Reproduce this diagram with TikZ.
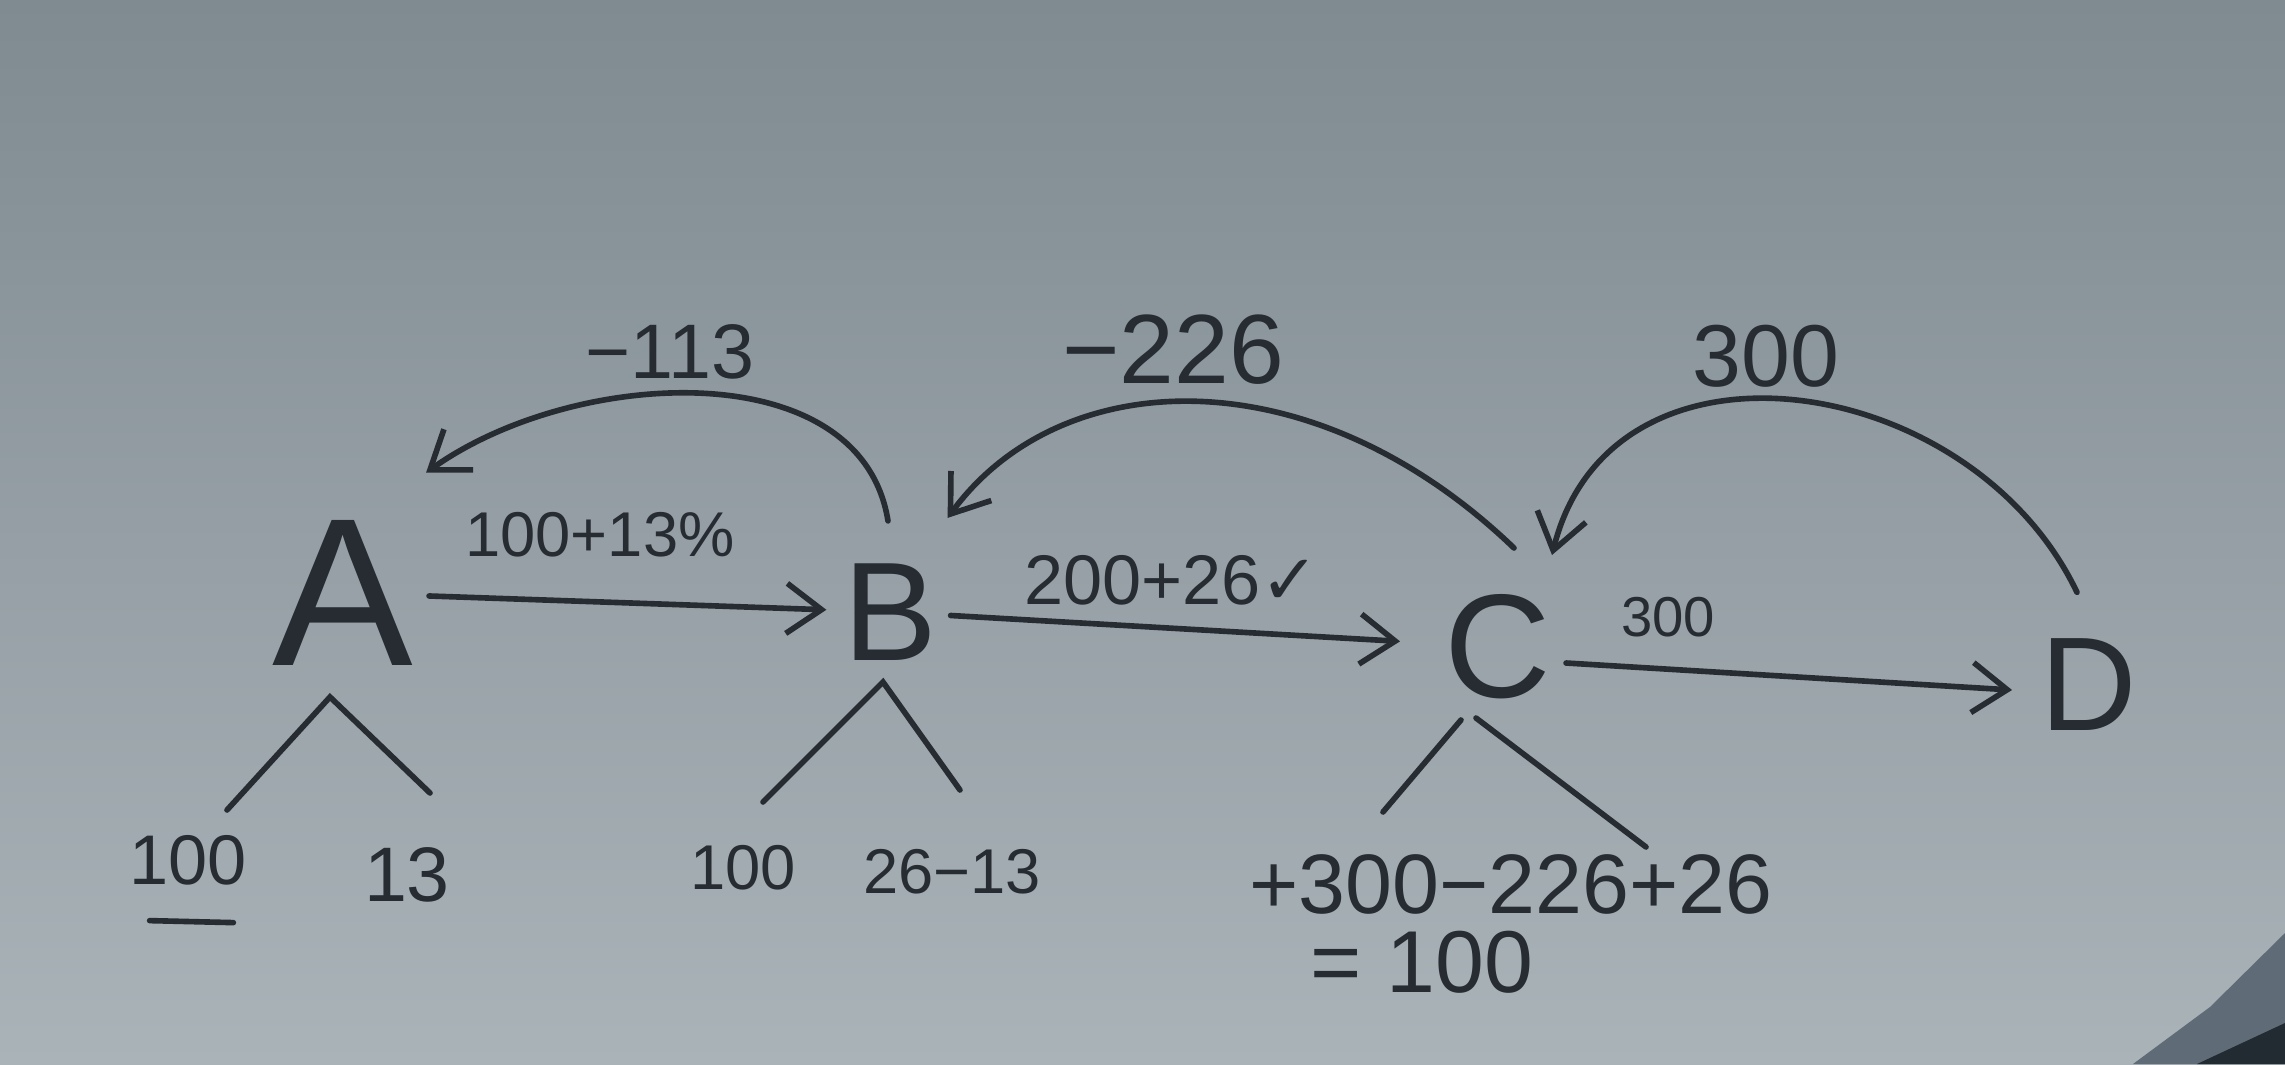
\documentclass[tikz,border=0pt]{standalone}
\usepackage{fontspec}
\setmainfont{Liberation Sans}
\newfontfamily\dejavu{DejaVu Sans}
\usepackage{tikz}
\usetikzlibrary{arrows.meta,calc}
\definecolor{ink}{HTML}{262C31}
\definecolor{papertop}{HTML}{7F8A91}
\definecolor{papermid}{HTML}{98A2A8}
\definecolor{paperbottom}{HTML}{AAB3B8}
\definecolor{shadowmid}{HTML}{5F6C77}
\definecolor{shadowdark}{HTML}{222B32}
\tikzset{
  letter/.style={text=ink,inner sep=2pt,font=\fontsize{40}{40}\selectfont},
  leaf/.style={text=ink,inner sep=2pt,font=\fontsize{20}{20}\selectfont},
  edgelabel/.style={text=ink,inner sep=1pt,font=\fontsize{18}{18}\selectfont},
  flowarrow/.style={-{Straight Barb[length=3.5mm,width=5mm]},draw=ink,line width=1.6pt,line cap=round},
  branch/.style={draw=ink,line width=1.6pt,line cap=round}
}

\begin{document}
\begin{tikzpicture}
  \useasboundingbox (0,0) rectangle (22.85,10.64);
  \shade[top color=papertop,middle color=papermid,bottom color=paperbottom] (0,0) rectangle (22.85,10.64);
  \fill[shadowmid] (22.85,1.31) -- (22.10,0.57) -- (21.33,0) -- (22.85,0) -- cycle;
  \fill[shadowdark] (22.85,0.41) -- (21.97,0) -- (22.85,0) -- cycle;
  \node[letter,font=\fontsize{60}{60}\selectfont] (a) at (3.43,4.71) {A};
  \node[letter] (b) at (8.90,4.52) {B};
  \node[letter,font=\fontsize{42}{42}\selectfont] (c) at (14.98,4.17) {C};
  \node[letter,font=\fontsize{38}{38}\selectfont] (d) at (20.89,3.79) {D};
  \draw[flowarrow,shorten <=0.08cm,shorten >=0.09cm] (a) -- (b);
  \draw[flowarrow,shorten <=0.06cm,shorten >=0.37cm] (b) -- (c);
  \draw[flowarrow] ([xshift=0.07cm,yshift=-0.16cm]c.east) -- ([xshift=-0.21cm,yshift=-0.05cm]d.west);
  \draw[flowarrow] ([shift={(-0.02,0.35)}]b.north) .. controls (8.61,7.12) and (5.74,6.97) .. ([shift={(0.05,0.40)}]a.north east);
  \draw[flowarrow] ([shift={(0.16,0.39)}]c.north) .. controls (13.12,7.10) and (10.61,7.01) .. ([shift={(0.03,0.38)}]b.north east);
  \draw[flowarrow] ([shift={(-0.12,0.39)}]d.north) .. controls (19.71,6.94) and (16.11,7.47) .. ([shift={(0.54,0.32)}]c.north);
  \node[edgelabel] (ab) at (6.00,5.29) {100+13\%};
  \node[edgelabel,font=\fontsize{20}{20}\selectfont] (bc) at (11.72,4.84) {200+26{\dejavu ✓}};
  \node[edgelabel,font=\fontsize{16}{16}\selectfont] (cd) at (16.68,4.47) {300};
  \node[edgelabel,font=\fontsize{22}{22}\selectfont] (ba) at (6.70,7.12) {−113};
  \node[edgelabel,font=\fontsize{28}{28}\selectfont] (cb) at (11.73,7.14) {−226};
  \node[edgelabel,font=\fontsize{25}{25}\selectfont] (dc) at (17.66,7.08) {300};
  \node[leaf] (a100) at (1.88,2.04) {100};
  \node[leaf,font=\fontsize{22}{22}\selectfont] (a13) at (4.07,1.89) {13};
  \node[leaf,font=\fontsize{18}{18}\selectfont] (b100) at (7.43,1.96) {100};
  \node[leaf,font=\fontsize{18}{18}\selectfont] (b2613) at (9.52,1.92) {26−13};
  \node[leaf,font=\fontsize{24}{24}\selectfont] (csum) at (15.11,1.80) {+300−226+26};
  \node[leaf,font=\fontsize{25}{25}\selectfont] (cres) at (14.22,1.02) {= 100};
  \draw[branch] ([xshift=0.28cm,yshift=-0.28cm]a100.south west) -- ([xshift=-0.21cm,yshift=-0.30cm]a100.south east);
  \coordinate (atop) at (3.30,3.67);
  \coordinate (aleft) at (2.27,2.54);
  \coordinate (aright) at (4.30,2.71);
  \draw[branch] (aleft) -- (atop) -- (aright);
  \coordinate (btop) at (8.83,3.82);
  \coordinate (bleft) at (7.63,2.62);
  \coordinate (bright) at (9.60,2.74);
  \draw[branch] (bleft) -- (btop) -- (bright);
  \coordinate (ctopl) at (14.61,3.44);
  \coordinate (ctopr) at (14.76,3.46);
  \coordinate (cleft) at (13.83,2.52);
  \coordinate (cright) at (16.46,2.17);
  \draw[branch] (ctopl) -- (cleft);
  \draw[branch] (ctopr) -- (cright);
\end{tikzpicture}
\end{document}
